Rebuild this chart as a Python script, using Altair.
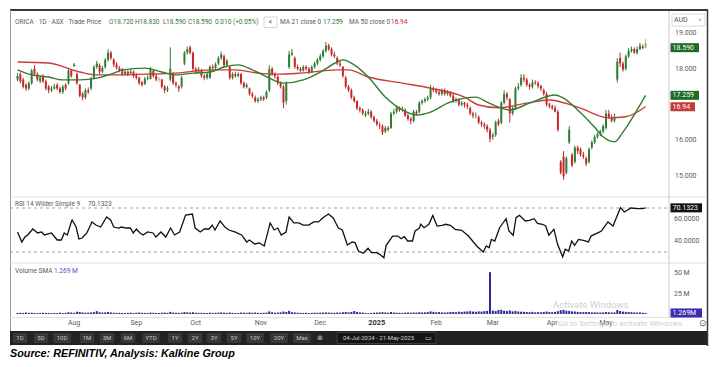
import altair as alt
import pandas as pd

# ---------------- values ----------------
opens = [
    17.70, 17.85, 17.70, 17.55, 17.45, 17.60, 18.00, 17.85, 17.65, 17.80,
    17.65, 17.50, 17.40, 17.45, 17.55, 17.45, 17.35, 17.55, 17.60, 17.95,
    18.08, 17.85, 17.55, 17.30, 17.20, 17.40, 17.45, 17.75, 18.05, 18.10,
    17.92, 18.05, 18.25, 18.45, 18.25, 18.12, 18.02, 17.98, 17.85, 17.92,
    17.88, 17.92, 17.82, 17.75, 17.62, 17.58, 17.72, 17.72, 17.95, 17.80,
    17.72, 17.70, 17.50, 17.40, 17.70, 17.85, 17.60, 17.50, 17.50, 18.15,
    18.45, 18.60, 18.45, 18.00, 17.92, 17.95, 17.80, 17.75, 17.75, 18.05,
    18.02, 18.15, 18.30, 18.35, 18.10, 18.05, 17.75, 17.85, 17.80, 17.85,
    17.60, 17.50, 17.45, 17.30, 17.20, 17.10, 17.15, 17.20, 17.20, 17.40,
    18.00, 17.85, 17.78, 17.60, 17.50, 17.10, 18.05, 18.40, 18.30, 18.05,
    18.00, 17.95, 18.05, 18.00, 17.90, 18.05, 18.15, 18.25, 18.35, 18.50,
    18.65, 18.55, 18.40, 18.30, 18.15, 18.05, 17.75, 17.50, 17.40, 17.20,
    17.10, 16.90, 16.85, 16.70, 16.75, 16.80, 16.65, 16.55, 16.42, 16.40,
    16.25, 16.35, 16.35, 16.75, 16.80, 16.92, 16.85, 16.85, 16.70, 16.60,
    16.55, 16.80, 16.80, 17.05, 17.10, 17.15, 17.20, 17.45, 17.40, 17.35,
    17.30, 17.40, 17.30, 17.35, 17.25, 17.10, 17.15, 17.00, 17.05, 17.00,
    16.90, 16.75, 16.70, 16.65, 16.50, 16.45, 16.40, 16.30, 16.10, 16.15,
    16.55, 16.50, 17.05, 17.30, 17.15, 16.75, 16.90, 17.45, 17.55, 17.75,
    17.70, 17.55, 17.50, 17.62, 17.60, 17.52, 17.40, 17.30, 17.00, 16.95,
    16.90, 16.80, 15.40, 15.55, 15.10, 15.95, 15.60, 15.40, 15.80, 15.75,
    15.60, 15.50, 15.40, 15.80, 15.95, 16.10, 16.18, 16.25, 16.35, 16.75,
    16.65, 16.55, 17.70, 18.30, 18.15, 18.00, 18.35, 18.50, 18.55, 18.45,
    18.55, 18.62, 18.72]
highs = [
    17.88, 17.90, 17.75, 17.60, 17.65, 18.00, 18.10, 17.90, 17.82, 17.85,
    17.70, 17.55, 17.52, 17.58, 17.60, 17.50, 17.55, 17.60, 18.00, 17.98,
    18.16, 17.90, 17.58, 17.35, 17.45, 17.48, 17.78, 18.10, 18.22, 18.15,
    18.08, 18.30, 18.55, 18.50, 18.30, 18.18, 18.08, 18.02, 17.98, 17.96,
    17.98, 17.95, 17.88, 17.78, 17.66, 17.78, 17.82, 18.05, 17.98, 17.85,
    17.78, 17.72, 17.55, 17.52, 18.60, 17.90, 17.65, 17.55, 17.80, 18.50,
    18.62, 18.65, 18.48, 18.05, 18.05, 18.00, 17.85, 17.90, 18.10, 18.12,
    18.18, 18.35, 18.48, 18.40, 18.28, 18.10, 17.90, 17.92, 17.90, 17.88,
    17.65, 17.60, 17.48, 17.35, 17.25, 17.20, 17.25, 17.25, 17.40, 18.10,
    18.05, 17.90, 17.82, 17.65, 17.55, 17.65, 18.50, 18.55, 18.35, 18.12,
    18.05, 18.10, 18.10, 18.05, 18.10, 18.20, 18.30, 18.42, 18.55, 18.75,
    18.70, 18.60, 18.48, 18.35, 18.22, 18.08, 17.80, 17.55, 17.45, 17.25,
    17.12, 16.95, 16.90, 16.82, 16.88, 16.85, 16.70, 16.60, 16.50, 16.45,
    16.40, 16.40, 16.80, 16.88, 16.98, 16.95, 16.95, 16.90, 16.75, 16.65,
    16.85, 16.85, 17.10, 17.15, 17.20, 17.25, 17.55, 17.50, 17.45, 17.40,
    17.45, 17.45, 17.40, 17.38, 17.30, 17.20, 17.18, 17.10, 17.08, 17.05,
    16.95, 16.80, 16.78, 16.70, 16.55, 16.50, 16.45, 16.35, 16.22, 16.55,
    16.60, 17.10, 17.40, 17.35, 17.18, 16.95, 17.50, 17.60, 17.85, 17.85,
    17.75, 17.60, 17.70, 17.68, 17.65, 17.55, 17.45, 17.35, 17.05, 17.00,
    16.98, 16.85, 15.45, 15.70, 15.55, 16.40, 15.65, 15.85, 15.85, 15.80,
    15.68, 15.55, 15.80, 16.00, 16.15, 16.22, 16.30, 16.45, 16.85, 16.85,
    16.72, 16.75, 18.30, 18.45, 18.20, 18.40, 18.58, 18.62, 18.60, 18.62,
    18.72, 18.68, 18.83]
lows = [
    17.65, 17.60, 17.45, 17.38, 17.40, 17.55, 17.80, 17.65, 17.60, 17.60,
    17.40, 17.32, 17.35, 17.42, 17.40, 17.30, 17.30, 17.40, 17.55, 17.75,
    18.05, 17.55, 17.20, 17.12, 17.15, 17.30, 17.40, 17.70, 18.00, 17.85,
    17.88, 18.00, 18.20, 18.25, 18.05, 17.98, 17.90, 17.80, 17.82, 17.80,
    17.84, 17.75, 17.70, 17.55, 17.50, 17.55, 17.68, 17.70, 17.75, 17.65,
    17.62, 17.45, 17.32, 17.35, 17.65, 17.55, 17.48, 17.35, 17.45, 18.10,
    18.40, 18.40, 17.95, 17.85, 17.88, 17.75, 17.68, 17.70, 17.72, 17.95,
    17.98, 18.10, 18.25, 18.05, 18.05, 17.70, 17.70, 17.75, 17.76, 17.55,
    17.45, 17.45, 17.25, 17.18, 17.05, 17.05, 17.10, 17.10, 17.15, 17.35,
    17.80, 17.72, 17.55, 17.45, 16.90, 17.00, 18.00, 18.35, 18.00, 17.95,
    17.90, 17.92, 17.95, 17.85, 17.88, 18.00, 18.10, 18.20, 18.30, 18.45,
    18.50, 18.35, 18.30, 18.10, 18.05, 17.75, 17.45, 17.35, 17.15, 17.05,
    16.85, 16.78, 16.70, 16.65, 16.70, 16.60, 16.50, 16.40, 16.32, 16.15,
    16.20, 16.25, 16.32, 16.70, 16.75, 16.80, 16.80, 16.65, 16.55, 16.45,
    16.50, 16.70, 16.75, 17.00, 17.05, 17.10, 17.15, 17.35, 17.30, 17.25,
    17.25, 17.25, 17.25, 17.20, 17.05, 17.05, 16.95, 16.95, 16.92, 16.88,
    16.70, 16.62, 16.62, 16.45, 16.38, 16.32, 16.22, 15.95, 16.02, 16.10,
    16.40, 16.45, 17.00, 17.12, 16.50, 16.70, 16.85, 17.40, 17.50, 17.62,
    17.50, 17.42, 17.45, 17.55, 17.45, 17.38, 17.25, 16.95, 16.90, 16.85,
    16.78, 16.25, 15.05, 14.90, 15.05, 15.90, 15.25, 15.35, 15.62, 15.55,
    15.48, 15.28, 15.35, 15.75, 15.90, 16.05, 16.12, 16.20, 16.30, 16.60,
    16.50, 16.50, 17.62, 18.05, 17.92, 17.95, 18.30, 18.45, 18.42, 18.40,
    18.52, 18.55, 18.59]
closes = [
    17.80, 17.65, 17.50, 17.45, 17.60, 17.95, 17.85, 17.70, 17.75, 17.65,
    17.45, 17.40, 17.45, 17.50, 17.45, 17.35, 17.50, 17.45, 17.95, 17.80,
    18.12, 17.60, 17.25, 17.20, 17.40, 17.35, 17.72, 18.05, 18.15, 17.92,
    18.02, 18.25, 18.45, 18.30, 18.12, 18.02, 17.95, 17.85, 17.92, 17.85,
    17.92, 17.80, 17.75, 17.60, 17.55, 17.72, 17.75, 18.00, 17.80, 17.70,
    17.70, 17.50, 17.40, 17.45, 18.00, 17.60, 17.55, 17.45, 17.75, 18.45,
    18.55, 18.45, 18.00, 17.92, 17.98, 17.80, 17.75, 17.85, 18.05, 18.02,
    18.12, 18.30, 18.40, 18.10, 18.22, 17.75, 17.85, 17.80, 17.85, 17.60,
    17.50, 17.55, 17.30, 17.25, 17.10, 17.15, 17.20, 17.15, 17.35, 18.00,
    17.85, 17.80, 17.60, 17.50, 17.05, 17.60, 18.40, 18.45, 18.05, 18.00,
    17.95, 18.05, 18.00, 17.90, 18.05, 18.15, 18.25, 18.35, 18.50, 18.65,
    18.55, 18.40, 18.35, 18.15, 18.10, 17.80, 17.50, 17.40, 17.20, 17.10,
    16.90, 16.85, 16.75, 16.75, 16.80, 16.65, 16.55, 16.45, 16.40, 16.22,
    16.35, 16.30, 16.75, 16.80, 16.92, 16.85, 16.88, 16.70, 16.60, 16.55,
    16.80, 16.75, 17.05, 17.10, 17.15, 17.20, 17.45, 17.40, 17.35, 17.30,
    17.40, 17.30, 17.35, 17.25, 17.10, 17.15, 17.00, 17.05, 17.00, 16.95,
    16.75, 16.70, 16.70, 16.50, 16.45, 16.40, 16.30, 16.05, 16.15, 16.50,
    16.45, 17.05, 17.30, 17.20, 16.75, 16.90, 17.45, 17.50, 17.75, 17.70,
    17.55, 17.50, 17.62, 17.60, 17.52, 17.45, 17.30, 17.00, 16.95, 16.90,
    16.80, 16.30, 15.10, 15.00, 15.50, 16.30, 15.30, 15.80, 15.70, 15.60,
    15.55, 15.35, 15.75, 15.95, 16.10, 16.18, 16.25, 16.40, 16.75, 16.65,
    16.55, 16.65, 18.20, 18.15, 17.98, 18.35, 18.50, 18.55, 18.45, 18.55,
    18.65, 18.58, 18.59]
volume_m = [
    1.2, 1.5, 1.3, 1.8, 1.4, 1.6, 1.2, 1.1, 1.3, 1.5,
    1.4, 1.2, 1.0, 1.3, 1.1, 1.6, 1.2, 1.4, 2.2, 1.8,
    1.5, 2.8, 2.4, 1.9, 1.6, 1.7, 2.0, 2.3, 3.5, 2.1,
    1.8, 2.0, 2.5, 1.9, 1.6, 1.4, 1.5, 1.3, 1.2, 1.4,
    1.6, 1.3, 1.5, 1.8, 1.4, 1.3, 1.2, 1.7, 1.5, 1.3,
    1.2, 1.6, 1.8, 1.4, 2.6, 1.7, 1.5, 1.4, 1.6, 2.4,
    2.0, 1.8, 2.2, 1.6, 1.4, 1.5, 1.3, 1.2, 1.6, 1.4,
    1.5, 1.7, 1.9, 1.6, 1.3, 1.8, 1.4, 1.2, 1.3, 1.7,
    1.6, 1.4, 1.9, 1.5, 1.8, 1.4, 1.3, 1.5, 1.7, 3.2,
    2.1, 1.6, 1.8, 2.0, 3.0, 2.4, 3.8, 2.2, 1.9, 1.5,
    1.4, 1.3, 1.5, 1.2, 1.4, 1.6, 1.5, 1.7, 1.8, 2.0,
    1.7, 1.6, 1.5, 1.8, 1.6, 2.2, 2.5, 2.0, 2.4, 3.6,
    2.6, 2.0, 1.8, 1.2, 1.0, 1.4, 1.6, 1.8, 2.0, 2.2,
    1.9, 1.6, 2.4, 1.8, 1.6, 1.5, 1.4, 1.7, 1.8, 1.6,
    1.9, 1.7, 2.2, 1.9, 2.0, 2.4, 3.2, 2.6, 2.1, 2.3,
    2.0, 1.8, 2.1, 2.4, 2.6, 2.2, 2.8, 2.5, 2.9, 3.1,
    3.4, 3.0, 2.7, 3.2, 2.9, 3.5, 3.8, 51.0, 4.2, 3.6,
    4.8, 5.2, 4.0, 3.6, 4.4, 3.2, 3.8, 3.0, 2.8, 2.6,
    2.4, 2.2, 2.6, 2.0, 2.3, 2.1, 2.5, 3.0, 2.4, 2.2,
    2.6, 3.4, 4.6, 5.2, 4.0, 3.8, 3.2, 3.0, 2.6, 2.4,
    2.2, 2.5, 2.3, 2.0, 2.1, 1.9, 1.8, 2.0, 2.4, 2.1,
    1.9, 2.0, 4.8, 3.6, 2.9, 2.6, 2.4, 2.2, 2.0, 1.8,
    1.9, 1.6, 1.3]

ma21_day = [0, 5, 11, 16, 22, 28, 34, 37, 45, 51, 56, 62, 68, 73, 78, 83, 89,
            94, 101, 107, 113, 115, 119, 124, 130, 136, 141, 146, 152, 158,
            162, 166, 170, 174, 181, 190, 193, 198, 204, 207, 211, 214, 219, 222]
ma21_val = [17.97, 17.83, 17.77, 17.69, 17.69, 17.74, 17.88, 17.97, 18.02,
            17.91, 17.83, 17.88, 17.91, 18.05, 18.11, 17.97, 17.74, 17.60,
            17.69, 17.91, 18.19, 18.25, 18.11, 17.77, 17.21, 16.85, 16.71,
            16.79, 17.04, 17.18, 17.21, 17.07, 16.93, 16.85, 17.04, 17.27,
            17.18, 16.85, 16.37, 16.10, 15.96, 16.23, 16.85, 17.259]
ma50_day = [0, 11, 22, 28, 34, 45, 56, 68, 77, 85, 91, 100, 113, 117, 124,
            136, 146, 158, 163, 170, 180, 188, 198, 209, 215, 222]
ma50_val = [18.19, 18.16, 17.91, 17.83, 17.83, 17.85, 17.88, 17.97, 17.97,
            17.88, 17.85, 17.88, 17.97, 17.97, 17.77, 17.60, 17.46, 17.21,
            16.99, 16.91, 17.04, 17.13, 16.93, 16.63, 16.66, 16.94]

rsi_day = [
    0.0, 1.5, 2.6, 3.6, 5.4, 7.1, 8.5, 9.5, 12.0, 14.0,
    15.5, 16.5, 17.6, 19.0, 19.3, 20.7, 21.7, 22.8, 24.5, 26.3,
    27.7, 29.4, 31.5, 32.9, 34.0, 35.7, 36.7, 38.5, 39.9, 40.9,
    42.0, 43.3, 44.4, 46.0, 47.9, 48.9, 50.7, 52.4, 54.1, 55.5,
    57.3, 59.4, 61.8, 62.8, 64.6, 66.0, 67.7, 68.8, 69.8, 71.6,
    73.3, 74.7, 76.8, 79.2, 81.0, 82.0, 83.8, 85.5, 87.2, 89.3,
    90.7, 92.0, 93.2, 94.9, 96.0, 97.7, 99.4, 101.0, 102.9, 104.7,
    106.4, 107.8, 109.9, 111.6, 113.4, 114.8, 116.6, 118.3, 119.3, 120.5,
    122.2, 123.9, 125.1, 126.9, 128.0, 129.5, 130.3, 132.6, 134.4, 135.6,
    136.7, 137.9, 139.6, 140.5, 142.0, 142.5, 143.7, 145.4, 146.8, 148.3,
    150.1, 151.3, 153.0, 154.7, 157.0, 159.4, 162.3, 164.6, 165.7, 166.7,
    167.5, 168.7, 170.4, 172.7, 173.7, 175.2, 176.2, 177.4, 179.5, 180.9,
    182.6, 183.8, 185.5, 186.7, 187.8, 189.6, 190.9, 192.7, 193.6, 194.8,
    195.9, 196.9, 198.3, 200.0, 201.8, 202.7, 204.7, 206.4, 208.7, 210.5,
    213.1, 214.5, 216.8, 219.2, 220.9, 222.0]
rsi_val = [
    48.2, 39.1, 43.6, 45.5, 50.9, 47.3, 48.2, 45.5, 47.3, 40.9,
    40.9, 47.3, 45.5, 57.3, 59.1, 52.7, 41.8, 42.7, 47.3, 57.3,
    54.5, 52.7, 61.8, 59.1, 52.7, 51.8, 52.7, 51.8, 51.8, 47.3,
    50.9, 47.3, 45.5, 48.2, 47.3, 43.6, 48.2, 43.6, 51.8, 45.5,
    48.2, 63.6, 64.5, 51.8, 48.2, 50.9, 50.9, 54.5, 50.0, 58.2,
    52.7, 50.0, 48.2, 45.5, 39.1, 40.9, 37.3, 38.2, 35.5, 56.4,
    50.0, 51.8, 45.5, 48.2, 61.8, 56.4, 56.4, 54.5, 54.5, 57.3,
    57.3, 60.9, 64.5, 60.9, 51.8, 50.0, 36.4, 39.1, 38.5, 30.9,
    28.8, 33.4, 29.4, 29.4, 27.9, 24.8, 36.1, 44.5, 44.5, 42.1,
    43.9, 40.0, 40.0, 49.1, 51.5, 55.2, 52.1, 55.2, 63.3, 53.6,
    54.3, 55.2, 54.3, 50.6, 49.7, 44.5, 35.5, 30.0, 35.5, 33.9,
    41.5, 40.0, 52.1, 60.3, 49.1, 45.2, 61.2, 63.3, 58.2, 58.8,
    60.3, 56.1, 55.2, 53.6, 45.2, 50.6, 37.0, 25.5, 32.5, 30.9,
    40.0, 36.1, 41.5, 40.6, 39.1, 44.5, 47.0, 49.1, 57.3, 53.6,
    70.3, 66.4, 70.0, 69.4, 69.4, 70.1323]

month_labels = ["Aug", "Sep", "Oct", "Nov", "Dec", "2025", "Feb", "Mar", "Apr", "May"]
month_day = [20, 42, 63, 86, 107, 127, 148, 168, 189, 208]
price_ticks = [15, 16, 18, 19]
rsi_ticks = [60, 40]
rsi_levels = [70, 30]
vol_ticks = [50, 25]

last_open, last_high, last_low, last_close = 18.720, 18.830, 18.590, 18.590
change, change_pct = 0.010, 0.05
ma21_last, ma50_last = 17.259, 16.94
rsi_last = 70.1323
vol_sma_last = 1.269

toolbar_buttons = ["1D", "5D", "10D", "1M", "3M", "6M", "YTD", "1Y", "2Y",
                   "3Y", "5Y", "10Y", "20Y", "Max"]
date_range = "04-Jul-2024  -  21-May-2025"

# ---------------- layout (image pixel calibration) ----------------
PAGE = 8
W, H = 717 - 2 * PAGE, 367 - 2 * PAGE
FONT = "Roboto, Arial, sans-serif"
GREEN = "#2e7d32"
RED = "#c62828"
MA_RED = "#cc3b3b"
GREY_TXT = "#5a5a5a"


def domain(v_a, px_a, v_b, px_b, lo_px, hi_px):
    k = (v_b - v_a) / (px_b - px_a)
    return [v_a + (lo_px - px_a) * k, v_a + (hi_px - px_a) * k]


XD = domain(0, 12.6, 222, 12.6 + 222 * 2.87, PAGE, PAGE + W)
PD = domain(19, 33, 15, 176.2, PAGE + H, PAGE)
RD = domain(60, 219, 40, 241, PAGE + H, PAGE)
VD = domain(0, 314, 50, 273, PAGE + H, PAGE)

XS = alt.Scale(domain=XD, nice=False, zero=False)
PS = alt.Scale(domain=PD, nice=False, zero=False)
RS = alt.Scale(domain=RD, nice=False, zero=False)
VS = alt.Scale(domain=VD, nice=False, zero=False)

one = pd.DataFrame({"a": [0]})


def X(f="i"):
    return alt.X(f"{f}:Q", scale=XS, axis=None)


def Y(f, s):
    return alt.Y(f"{f}:Q", scale=s, axis=None)


def px(v):
    return alt.value(v - PAGE)


def rect(x1, y1, x2, y2, color, **kw):
    return alt.Chart(one).mark_rect(color=color, **kw).encode(
        x=px(x1), x2=px(x2), y=px(y1), y2=px(y2))


def hline(x1, x2, y, color, w=1, **kw):
    return alt.Chart(one).mark_rule(color=color, strokeWidth=w, **kw).encode(
        x=px(x1), x2=px(x2), y=px(y))


def vline(x, y1, y2, color, w=1, **kw):
    return alt.Chart(one).mark_rule(color=color, strokeWidth=w, **kw).encode(
        x=px(x), y=px(y1), y2=px(y2))


def txt(x, y, s, color=GREY_TXT, size=6.5, align="left", weight="normal",
        font=FONT, style="normal", opacity=1):
    return alt.Chart(one).mark_text(
        text=s, align=align, baseline="middle", fontSize=size, color=color,
        font=font, fontWeight=weight, fontStyle=style, opacity=opacity
    ).encode(x=px(x), y=px(y))


# ---------------- candles ----------------
n = len(closes)
prev = [opens[0]] + closes[:-1]
cols, ops = [], []
for o, c, p in zip(opens, closes, prev):
    up = c >= p
    cols.append(GREEN if up else RED)
    ops.append(1.0 if (up and c >= o) or ((not up) and c <= o) else 0.45)
cdf = pd.DataFrame({"i": range(n), "o": opens, "h": highs, "l": lows,
                    "c": closes, "col": cols, "op": ops})

wicks = alt.Chart(cdf).mark_rule(strokeWidth=1).encode(
    x=X(), y=Y("l", PS), y2="h",
    color=alt.Color("col:N", scale=None), opacity=alt.Opacity("op:Q", scale=None))
bodies = alt.Chart(cdf).mark_bar(size=2).encode(
    x=X(), y=Y("o", PS), y2="c",
    color=alt.Color("col:N", scale=None), opacity=alt.Opacity("op:Q", scale=None))

ma21 = alt.Chart(pd.DataFrame({"i": ma21_day, "v": ma21_val})).mark_line(
    color=GREEN, strokeWidth=1.4, interpolate="monotone").encode(x=X(), y=Y("v", PS))
ma50 = alt.Chart(pd.DataFrame({"i": ma50_day, "v": ma50_val})).mark_line(
    color=MA_RED, strokeWidth=1.4, interpolate="monotone").encode(x=X(), y=Y("v", PS))

# ---------------- RSI ----------------
rsi_lv = alt.Chart(pd.DataFrame({"v": rsi_levels})).mark_rule(
    color="#8a8a8a", strokeDash=[3, 3], strokeWidth=0.8).encode(
    y=Y("v", RS), x=px(10), x2=px(669))
rsi_line = alt.Chart(pd.DataFrame({"i": rsi_day, "v": rsi_val})).mark_line(
    color="#111111", strokeWidth=1.3).encode(x=X(), y=Y("v", RS))

# ---------------- volume ----------------
vdf = pd.DataFrame({"i": range(n), "v": volume_m, "z": [0] * n})
vol = alt.Chart(vdf).mark_bar(size=2, color="#2b2a9a").encode(
    x=X(), y=Y("v", VS), y2="z")

# ---------------- axis labels ----------------
ptick = alt.Chart(pd.DataFrame({"v": price_ticks, "t": [f"{v:.3f}" for v in price_ticks]})
                  ).mark_text(align="left", baseline="middle", fontSize=7, font=FONT,
                              color=GREY_TXT).encode(x=px(675), y=Y("v", PS), text="t:N")
rtick = alt.Chart(pd.DataFrame({"v": rsi_ticks, "t": [f"{v:.4f}" for v in rsi_ticks]})
                  ).mark_text(align="left", baseline="middle", fontSize=7, font=FONT,
                              color=GREY_TXT).encode(x=px(674), y=Y("v", RS), text="t:N")
vtick = alt.Chart(pd.DataFrame({"v": vol_ticks, "t": [f"{v} M" for v in vol_ticks]})
                  ).mark_text(align="left", baseline="middle", fontSize=7, font=FONT,
                              color=GREY_TXT).encode(x=px(674), y=Y("v", VS), text="t:N")
mdf = pd.DataFrame({"i": month_day, "t": month_labels})
mlab = alt.Chart(mdf[mdf.t != "2025"]).mark_text(
    align="center", baseline="middle", fontSize=7, font=FONT, color=GREY_TXT
).encode(x=X(), y=px(323), text="t:N")
ylab = alt.Chart(mdf[mdf.t == "2025"]).mark_text(
    align="center", baseline="middle", fontSize=7.5, font=FONT, color="#333333",
    fontWeight="bold").encode(x=X(), y=px(323), text="t:N")


# ---------------- value boxes on the right axis ----------------
def vbox(value, label, scale, fill, x2=699, h=4.5):
    d = pd.DataFrame({"v": [value], "t": [label]})
    b = alt.Chart(d).mark_rect(color=fill, yOffset=-h, y2Offset=h).encode(
        x=px(670.5), x2=px(x2), y=Y("v", scale), y2="v")
    t = alt.Chart(d).mark_text(align="left", baseline="middle", fontSize=7,
                               font=FONT, color="white").encode(
        x=px(672.5), y=Y("v", scale), text="t:N")
    return [b, t]


boxes = (vbox(last_close, f"{last_close:.3f}", PS, "#1e6b25")
         + vbox(ma21_last, f"{ma21_last:.3f}", PS, "#1e6b25")
         + vbox(ma50_last, f"{ma50_last:.2f}", PS, "#c23a3a", x2=695)
         + vbox(rsi_last, f"{rsi_last:.4f}", RS, "#111111", x2=702)
         + vbox(vol_sma_last, f"{vol_sma_last:.3f}M", VS, "#3a2bb0", x2=702))

# ---------------- frame, header, toolbar ----------------
deco = [
    rect(PAGE, PAGE, PAGE + W, PAGE + H, "white"),
    hline(10, 708, 10, "#3a3a3a", w=2),
    vline(10.5, 10, 346, "#9a9a9a"),
    vline(707.5, 10, 346, "#3a3a3a", w=1.5),
    vline(669, 11, 318, "#c8c8c8"),
    hline(10, 707, 197, "#dddddd"),
    hline(10, 707, 263, "#dddddd"),
    hline(10, 707, 317.5, "#e2e2e2"),
]

header = [
    txt(15, 22, "ORICA · 1D · ASX · Trade Price"),
    txt(109, 22, "O"), txt(113.5, 22, f"{last_open:.3f}", GREEN),
    txt(135, 22, "H"), txt(139.5, 22, f"{last_high:.3f}", GREEN),
    txt(163, 22, "L"), txt(166, 22, f"{last_low:.3f}", GREEN),
    txt(188, 22, "C"), txt(192, 22, f"{last_close:.3f}", GREEN),
    txt(215, 22, f"{change:.3f} (+{change_pct:.2f}%)", GREEN),
    rect(264, 17, 277, 27.5, "white", stroke="#cfcfcf", strokeWidth=0.8),
    txt(270.5, 22, "<", "#333333", align="center"),
    txt(280, 22, "MA 21 close 0"), txt(323, 22, f"{ma21_last:.3f}", GREEN),
    txt(349, 22, "MA 50 close 0"), txt(391, 22, f"{ma50_last:.2f}", RED),
    rect(672, 14, 705, 26, "white", stroke="#d0d0d0", strokeWidth=0.8),
    txt(674, 20, "AUD", "#555555", size=7),
    txt(700, 20, "˅", "#777777", size=6, align="center"),
    txt(15, 204, "RSI 14 Wilder Simple 9"),
    txt(88, 204, f"{rsi_last:.4f}", "#555555"),
    txt(15, 271, "Volume SMA"),
    txt(54, 271, f"{vol_sma_last:.3f} M", "#5b4bd0"),
    txt(703, 323, "⊙", "#555555", size=9, align="center"),
]

btn_x = [20, 41, 62, 87, 107, 128, 151, 175, 195, 214, 234, 255, 279, 302]
toolbar = [rect(10, 331, 707, 345, "#222222")]
for lab, cx in zip(toolbar_buttons, btn_x):
    w = 8 + 3.2 * len(lab)
    toolbar.append(rect(cx - w / 2, 333, cx + w / 2, 343, "#383838"))
    toolbar.append(txt(cx, 338, lab, "#c8c8c8", size=6, align="center"))
toolbar.append(txt(320, 338, "⊗", "#c8c8c8", size=7, align="center"))
toolbar.append(rect(337, 332.5, 436, 343.5, "#151515", stroke="#555555",
                    strokeWidth=0.6))
toolbar.append(txt(343, 338, date_range, "#d0d0d0", size=6))
toolbar.append(txt(428, 338, "▭", "#d0d0d0", size=7, align="center"))

source = [txt(10, 354, "Source: REFINITIV, Analysis: Kalkine Group", "#000000",
              size=10.8, weight="bold", style="italic",
              font="Liberation Sans Narrow, Arial Narrow, Arial, sans-serif")]

watermark = [txt(553, 305, "Activate Windows", "#cfcfcf", size=9.5),
             txt(558, 323.5, "Go to Settings to activate Windows.", "#cfcfcf", size=8)]

layers = (deco + [wicks, bodies, ma50, ma21, rsi_lv, rsi_line, vol,
                  ptick, rtick, vtick, mlab, ylab] + boxes + header + toolbar
          + source + watermark)

chart = alt.layer(*layers).resolve_scale(y="independent").properties(
    width=W, height=H, autosize=alt.AutoSizeParams(type="none"), padding=0
).configure_view(stroke=None).configure(background="white")

chart.save("out.html", embed_options={"renderer": "svg", "actions": False})
